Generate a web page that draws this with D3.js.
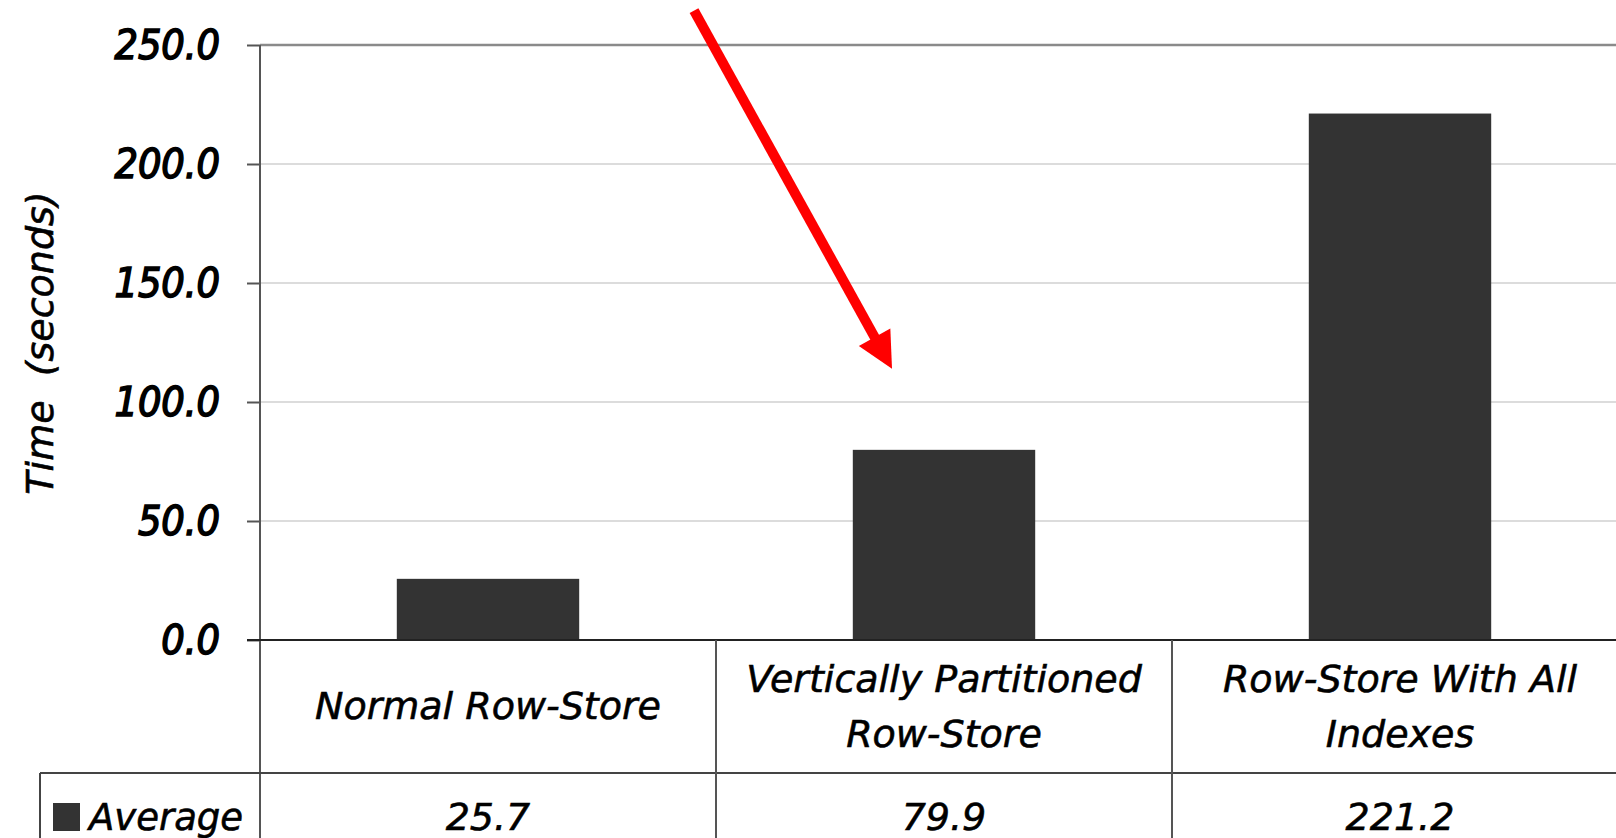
<!DOCTYPE html>
<html>
<head>
<meta charset="utf-8">
<script src="https://cdn.jsdelivr.net/npm/d3@7"></script>
<style>
  body { margin: 0; background: #fff; overflow: hidden; }
  text { font-family: "DejaVu Sans", sans-serif; font-style: italic; fill: #000; }
  .lbl { stroke: #000; stroke-width: 0.6px; }
</style>
</head>
<body>
<svg id="chart" width="1616" height="838"></svg>
<script>
// Chart data
const categories = ["Normal Row-Store", "Vertically Partitioned Row-Store", "Row-Store With All Indexes"];
const categoryLines = [["Normal Row-Store"], ["Vertically Partitioned", "Row-Store"], ["Row-Store With All", "Indexes"]];
const averages = [25.7, 79.9, 221.2];
const yTicks = [0, 50, 100, 150, 200, 250];
const seriesName = "Average";

const W = 1616, H = 838;
const svg = d3.select("#chart");

// Scales
const y = d3.scaleLinear().domain([0, 250]).range([640, 45]);
const x = d3.scaleBand().domain(categories).range([260, 260 + 3 * 456]).padding(0);
const bw = x.bandwidth();
const barW = bw * 0.4;

// Gridlines
svg.append("g")
    .selectAll("line")
    .data(yTicks.filter(d => d > 0 && d < 250))
    .enter().append("line")
    .attr("x1", 260).attr("x2", W)
    .attr("y1", d => y(d)).attr("y2", d => y(d))
    .attr("stroke", "#dcdcdc")
    .attr("stroke-width", 2);

// Top border line
svg.append("line")
    .attr("x1", 260).attr("x2", W)
    .attr("y1", y(250)).attr("y2", y(250))
    .attr("stroke", "#8a8a8a")
    .attr("stroke-width", 2.5);

// Bars
svg.append("g")
    .selectAll("rect")
    .data(averages)
    .enter().append("rect")
    .attr("x", (d, i) => x(categories[i]) + (bw - barW) / 2)
    .attr("width", barW)
    .attr("y", d => y(d))
    .attr("height", d => y(0) - y(d))
    .attr("fill", "#333333");

// Y axis
const yAxis = svg.append("g")
    .attr("transform", "translate(260,0)")
    .call(d3.axisLeft(y).tickValues(yTicks).tickFormat(d3.format(".1f")).tickSize(13).tickPadding(27));
yAxis.select(".domain").remove();
yAxis.selectAll(".tick line").attr("stroke", "#555").attr("stroke-width", 2);
yAxis.selectAll(".tick text")
    .style("font-family", "'DejaVu Sans Condensed', 'DejaVu Sans', sans-serif")
    .style("font-stretch", "condensed")
    .style("font-size", "41px")
    .style("font-style", "italic")
    .attr("stroke", "#000")
    .attr("stroke-width", 1.5)
    .attr("fill", "#000");

// Y axis line (continues down through the table)
svg.append("line")
    .attr("x1", 260).attr("x2", 260)
    .attr("y1", y(250)).attr("y2", H)
    .attr("stroke", "#555").attr("stroke-width", 2);

// Zero line
svg.append("line")
    .attr("x1", 247).attr("x2", W)
    .attr("y1", y(0)).attr("y2", y(0))
    .attr("stroke", "#222").attr("stroke-width", 2);

// Data table
const rowY = 773;
svg.append("line")
    .attr("x1", 40).attr("x2", W)
    .attr("y1", rowY).attr("y2", rowY)
    .attr("stroke", "#444").attr("stroke-width", 2);
svg.append("line")
    .attr("x1", 40).attr("x2", 40)
    .attr("y1", rowY).attr("y2", H)
    .attr("stroke", "#444").attr("stroke-width", 2);
svg.append("g")
    .selectAll("line")
    .data(categories.slice(1))
    .enter().append("line")
    .attr("x1", d => x(d)).attr("x2", d => x(d))
    .attr("y1", y(0)).attr("y2", H)
    .attr("stroke", "#555").attr("stroke-width", 2);

// Category labels
categoryLines.forEach((lines, i) => {
    const cx = x(categories[i]) + bw / 2;
    const lineH = 55;
    const firstBase = 719 - (lines.length - 1) * lineH / 2;
    lines.forEach((t, j) => {
        svg.append("text")
            .attr("class", "lbl")
            .attr("x", cx)
            .attr("y", firstBase + j * lineH)
            .attr("text-anchor", "middle")
            .style("font-size", "38px")
            .text(t);
    });
});

// Values row
svg.append("g")
    .selectAll("text")
    .data(averages)
    .enter().append("text")
    .attr("class", "lbl")
    .attr("x", (d, i) => x(categories[i]) + bw / 2)
    .attr("y", 830)
    .attr("text-anchor", "middle")
    .style("font-size", "38px")
    .text(d => d3.format(".1f")(d));

// Legend key in table
svg.append("rect")
    .attr("x", 53).attr("y", 803)
    .attr("width", 27).attr("height", 28)
    .attr("fill", "#333333");
svg.append("text")
    .attr("class", "lbl")
    .attr("x", 89).attr("y", 830)
    .style("font-size", "37px")
    .text(seriesName);

// Y axis title
svg.append("text")
    .attr("class", "lbl")
    .attr("transform", "translate(53,343) rotate(-90)")
    .attr("text-anchor", "middle")
    .style("font-size", "38px")
    .style("white-space", "pre")
    .text("Time  (seconds)");

// Red arrow pointing at the second bar
const tipX = x(categories[1]) + bw * 0.386;
const tipY = y(114);
const startX = tipX - 198, startY = tipY - 358;
const ang = Math.atan2(tipY - startY, tipX - startX);
const headLen = 36, headHalf = 18;
const baseX = tipX - headLen * Math.cos(ang), baseY = tipY - headLen * Math.sin(ang);
svg.append("line")
    .attr("x1", startX).attr("y1", startY)
    .attr("x2", baseX + 2 * Math.cos(ang)).attr("y2", baseY + 2 * Math.sin(ang))
    .attr("stroke", "#ff0000").attr("stroke-width", 10);
svg.append("path")
    .attr("d", d3.line()([
        [tipX, tipY],
        [baseX + headHalf * Math.sin(ang), baseY - headHalf * Math.cos(ang)],
        [baseX - headHalf * Math.sin(ang), baseY + headHalf * Math.cos(ang)]
    ]))
    .attr("fill", "#ff0000");
</script>
</body>
</html>
